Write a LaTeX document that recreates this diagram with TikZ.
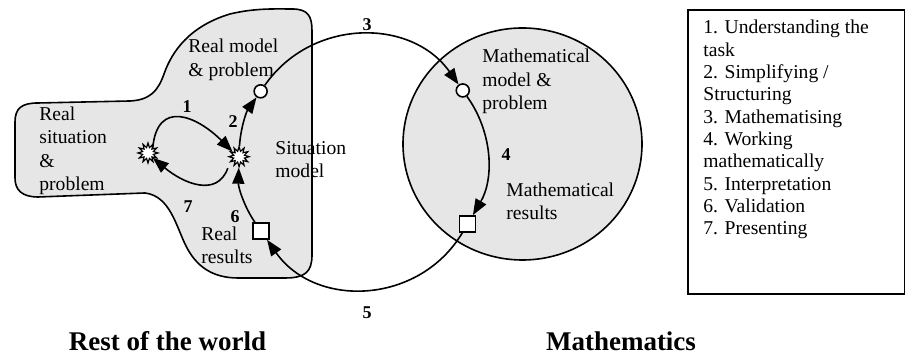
\documentclass[tikz,border=0pt]{standalone}
\usepackage{fontspec}
\setmainfont{Liberation Serif}
\usetikzlibrary{arrows.meta,shapes.geometric}

\definecolor{fieldgray}{HTML}{E6E6E6}

\begin{document}
\begin{tikzpicture}[
    x=0.5pt, y=0.5pt,
    field/.style={draw, line width=0.8pt, fill=fieldgray},
    burst/.style={star, star points=12, star point ratio=1.8, draw, fill=white,
                  inner sep=0pt, minimum size=10pt, line width=0.6pt},
    ring/.style={circle, draw, fill=white, inner sep=0pt, minimum size=6.5pt, line width=0.8pt},
    box/.style={rectangle, draw, fill=white, inner sep=0pt, minimum size=8pt, line width=0.8pt},
    lab/.style={font=\fontsize{9.8}{11.75}\selectfont, align=left, anchor=west, inner sep=0pt},
    num/.style={font=\fontsize{9}{10}\selectfont\bfseries, inner sep=0pt},
    realm/.style={font=\fontsize{13.5}{15}\selectfont\bfseries, inner sep=0pt},
    arrow/.style={-{Triangle[length=8pt,width=6pt]}, line width=0.8pt}
  ]
    \useasboundingbox (0,0) rectangle (905,356);
    % rest of the world
    \path[field] (15,206) -- (15,234) .. controls (15,248) and (22,253) .. (38,253)
      -- (130,255) .. controls (150,256) and (158,265) .. (164,282)
      .. controls (172,305) and (190,330) .. (230,342)
      .. controls (255,348) and (275,347) .. (292,347)
      .. controls (308,347) and (312,340) .. (312,325)
      -- (312,101) .. controls (312,84) and (305,78) .. (285,78)
      -- (238,78) .. controls (212,78) and (196,90) .. (186,110)
      .. controls (176,130) and (170,160) .. (145,163)
      -- (38,159) .. controls (22,159) and (15,166) .. (15,178) -- cycle;
    % mathematics
    \path[field] (522.5,212) ellipse [x radius=119.5, y radius=116];

    \coordinate (ctr) at (362,195);
    \node[burst] (sit) at (148,203) {};
    \node[burst] (sitm) at ([shift={(178:123)}]ctr) {};
    \node[ring] (rmod) at ([shift={(145.5:123)}]ctr) {};
    \node[ring] (mmod) at ([shift={(35:123)}]ctr) {};
    \node[box] (mres) at ([shift={(-30.8:123)}]ctr) {};
    \node[box] (rres) at ([shift={(214.7:123)}]ctr) {};

    \draw[arrow] (sit.north east) to[out=85, in=135, looseness=1.6] (sitm.142);
    \draw[arrow, shorten <=4pt] (sitm.205) to[out=-110, in=-40, looseness=1.3] (sit.south east);
    \draw[arrow] (sitm) to[bend left=16, looseness=0.87] (rmod);
    \draw[arrow] (rmod) to[bend left=55, looseness=1.08] (mmod);
    \draw[arrow] (mmod) to[bend left=33, looseness=0.93] (mres);
    \draw[arrow] (mres) to[bend left=57, looseness=1.1] (rres);
    \draw[arrow] (rres) to[bend left=18, looseness=0.87] (sitm);

    \node[num] (n1) at (187,249) {1};
    \node[num] (n2) at (233,234) {2};
    \node[num] (n3) at (367,331) {3};
    \node[num] (n4) at (506,201) {4};
    \node[num] (n5) at (367,43) {5};
    \node[num] (n6) at (235,139) {6};
    \node[num] (n7) at (188,149) {7};

    \node[lab] (lsit) at (39,205) {Real\\situation\\\&\\problem};
    \node[lab] (lrmod) at (188,296) {Real model\\\& problem};
    \node[lab] (lsitm) at (275,196.5) {Situation\\model};
    \node[lab] (lrres) at (201,110.5) {Real\\results};
    \node[lab] (lmmod) at (482,274.5) {Mathematical\\model \&\\problem};
    \node[lab] (lmres) at (506,154.5) {Mathematical\\results};

    \node[realm] (world) at (167.5,15) {Rest of the world};
    \node[realm] (maths) at (621,15) {Mathematics};

    % list of steps
    \node[draw, line width=0.9pt, anchor=north west, inner sep=0pt,
          minimum width=108.25pt, minimum height=142pt] (legend) at (687,347) {};
    \node[lab, anchor=north west, font=\fontsize{9.8}{11.15}\selectfont] (steps) at (703,336)
      {1. Understanding the\\task\\2. Simplifying /\\Structuring\\3. Mathematising\\4. Working\\mathematically\\5. Interpretation\\6. Validation\\7. Presenting};
  \end{tikzpicture}
\end{document}
